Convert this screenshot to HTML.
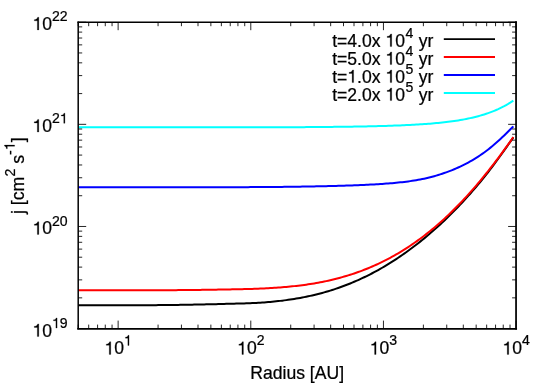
<!DOCTYPE html>
<html><head><meta charset="utf-8"><title>plot</title>
<style>
html,body{margin:0;padding:0;background:#fff;}
svg{display:block;will-change:transform}
text{font-family:"Liberation Sans",sans-serif;font-size:18.0px;fill:#000;stroke:#000;stroke-width:0.24px}
.s{font-size:14.4px}
.h{fill:none;stroke:none}
</style></head><body>
<svg width="550" height="386" viewBox="0 0 550 386">
<rect width="550" height="386" fill="#fff"/>
<path d="M78.20,305.31 L80.20,305.32 L82.20,305.32 L84.20,305.33 L86.20,305.33 L88.20,305.34 L90.20,305.34 L92.20,305.35 L94.20,305.35 L96.20,305.35 L98.20,305.36 L100.20,305.36 L102.20,305.36 L104.20,305.36 L106.20,305.36 L108.20,305.35 L110.20,305.35 L112.20,305.35 L114.20,305.35 L116.20,305.34 L118.20,305.34 L120.20,305.33 L122.20,305.33 L124.20,305.32 L126.20,305.32 L128.20,305.31 L130.20,305.30 L132.20,305.29 L134.20,305.28 L136.20,305.27 L138.20,305.26 L140.20,305.25 L142.20,305.24 L144.20,305.23 L146.20,305.21 L148.20,305.20 L150.20,305.18 L152.20,305.17 L154.20,305.15 L156.20,305.14 L158.20,305.12 L160.20,305.10 L162.20,305.08 L164.20,305.06 L166.20,305.04 L168.20,305.01 L170.20,304.99 L172.20,304.96 L174.20,304.94 L176.20,304.91 L178.20,304.88 L180.20,304.86 L182.20,304.82 L184.20,304.79 L186.20,304.76 L188.20,304.73 L190.20,304.69 L192.20,304.65 L194.20,304.62 L196.20,304.58 L198.20,304.54 L200.20,304.50 L202.20,304.46 L204.20,304.41 L206.20,304.37 L208.20,304.32 L210.20,304.28 L212.20,304.23 L214.20,304.18 L216.20,304.13 L218.20,304.08 L220.20,304.03 L222.20,303.98 L224.20,303.92 L226.20,303.87 L228.20,303.82 L230.20,303.76 L232.20,303.71 L234.20,303.65 L236.20,303.60 L238.20,303.54 L240.20,303.49 L242.20,303.43 L244.20,303.38 L246.20,303.31 L248.20,303.25 L250.20,303.17 L252.20,303.09 L254.20,303.00 L256.20,302.89 L258.20,302.78 L260.20,302.66 L262.20,302.53 L264.20,302.39 L266.20,302.24 L268.20,302.08 L270.20,301.91 L272.20,301.72 L274.20,301.53 L276.20,301.32 L278.20,301.10 L280.20,300.88 L282.20,300.64 L284.20,300.38 L286.20,300.12 L288.20,299.84 L290.20,299.55 L292.20,299.25 L294.20,298.93 L296.20,298.60 L298.20,298.26 L300.20,297.90 L302.20,297.53 L304.20,297.14 L306.20,296.74 L308.20,296.32 L310.20,295.89 L312.20,295.44 L314.20,294.98 L316.20,294.49 L318.20,293.99 L320.20,293.47 L322.20,292.94 L324.20,292.38 L326.20,291.81 L328.20,291.22 L330.20,290.61 L332.20,289.98 L334.20,289.33 L336.20,288.67 L338.20,287.98 L340.20,287.28 L342.20,286.55 L344.20,285.81 L346.20,285.04 L348.20,284.26 L350.20,283.46 L352.20,282.63 L354.20,281.79 L356.20,280.93 L358.20,280.04 L360.20,279.14 L362.20,278.21 L364.20,277.26 L366.20,276.29 L368.20,275.30 L370.20,274.29 L372.20,273.25 L374.20,272.19 L376.20,271.12 L378.20,270.02 L380.20,268.89 L382.20,267.75 L384.20,266.58 L386.20,265.39 L388.20,264.18 L390.20,262.94 L392.20,261.68 L394.20,260.40 L396.20,259.09 L398.20,257.77 L400.20,256.42 L402.20,255.04 L404.20,253.64 L406.20,252.22 L408.20,250.78 L410.20,249.31 L412.20,247.82 L414.20,246.31 L416.20,244.77 L418.20,243.20 L420.20,241.62 L422.20,240.01 L424.20,238.37 L426.20,236.71 L428.20,235.03 L430.20,233.32 L432.20,231.59 L434.20,229.83 L436.20,228.05 L438.20,226.24 L440.20,224.41 L442.20,222.55 L444.20,220.66 L446.20,218.75 L448.20,216.82 L450.20,214.86 L452.20,212.87 L454.20,210.85 L456.20,208.81 L458.20,206.74 L460.20,204.64 L462.20,202.51 L464.20,200.35 L466.20,198.17 L468.20,195.95 L470.20,193.71 L472.20,191.43 L474.20,189.12 L476.20,186.78 L478.20,184.41 L480.20,182.00 L482.20,179.56 L484.20,177.08 L486.20,174.57 L488.20,172.02 L490.20,169.44 L492.20,166.82 L494.20,164.16 L496.20,161.47 L498.20,158.74 L500.20,155.99 L502.20,153.21 L504.20,150.41 L506.20,147.59 L508.20,144.76 L510.20,141.91 L512.20,139.05 L513.35,137.40" fill="none" stroke="#000" stroke-width="2.0" stroke-linejoin="round" stroke-linecap="butt"/>
<path d="M78.20,290.21 L80.20,290.22 L82.20,290.23 L84.20,290.24 L86.20,290.25 L88.20,290.26 L90.20,290.27 L92.20,290.28 L94.20,290.29 L96.20,290.30 L98.20,290.30 L100.20,290.31 L102.20,290.32 L104.20,290.32 L106.20,290.32 L108.20,290.33 L110.20,290.33 L112.20,290.33 L114.20,290.33 L116.20,290.34 L118.20,290.34 L120.20,290.34 L122.20,290.34 L124.20,290.34 L126.20,290.33 L128.20,290.33 L130.20,290.33 L132.20,290.33 L134.20,290.32 L136.20,290.32 L138.20,290.32 L140.20,290.31 L142.20,290.31 L144.20,290.30 L146.20,290.29 L148.20,290.29 L150.20,290.28 L152.20,290.27 L154.20,290.26 L156.20,290.25 L158.20,290.24 L160.20,290.23 L162.20,290.22 L164.20,290.21 L166.20,290.20 L168.20,290.19 L170.20,290.17 L172.20,290.16 L174.20,290.14 L176.20,290.13 L178.20,290.11 L180.20,290.09 L182.20,290.08 L184.20,290.06 L186.20,290.04 L188.20,290.02 L190.20,290.00 L192.20,289.98 L194.20,289.96 L196.20,289.93 L198.20,289.91 L200.20,289.88 L202.20,289.86 L204.20,289.83 L206.20,289.80 L208.20,289.78 L210.20,289.75 L212.20,289.72 L214.20,289.69 L216.20,289.65 L218.20,289.62 L220.20,289.59 L222.20,289.55 L224.20,289.52 L226.20,289.48 L228.20,289.45 L230.20,289.41 L232.20,289.37 L234.20,289.33 L236.20,289.29 L238.20,289.25 L240.20,289.20 L242.20,289.16 L244.20,289.11 L246.20,289.06 L248.20,289.01 L250.20,288.96 L252.20,288.89 L254.20,288.83 L256.20,288.75 L258.20,288.67 L260.20,288.59 L262.20,288.50 L264.20,288.40 L266.20,288.30 L268.20,288.19 L270.20,288.08 L272.20,287.96 L274.20,287.83 L276.20,287.69 L278.20,287.55 L280.20,287.40 L282.20,287.24 L284.20,287.08 L286.20,286.90 L288.20,286.72 L290.20,286.53 L292.20,286.34 L294.20,286.13 L296.20,285.91 L298.20,285.68 L300.20,285.44 L302.20,285.19 L304.20,284.93 L306.20,284.65 L308.20,284.36 L310.20,284.06 L312.20,283.75 L314.20,283.42 L316.20,283.07 L318.20,282.72 L320.20,282.34 L322.20,281.95 L324.20,281.55 L326.20,281.13 L328.20,280.69 L330.20,280.24 L332.20,279.77 L334.20,279.28 L336.20,278.77 L338.20,278.25 L340.20,277.71 L342.20,277.15 L344.20,276.58 L346.20,275.99 L348.20,275.38 L350.20,274.75 L352.20,274.10 L354.20,273.43 L356.20,272.75 L358.20,272.04 L360.20,271.32 L362.20,270.57 L364.20,269.80 L366.20,269.01 L368.20,268.20 L370.20,267.37 L372.20,266.52 L374.20,265.64 L376.20,264.74 L378.20,263.82 L380.20,262.88 L382.20,261.91 L384.20,260.92 L386.20,259.90 L388.20,258.86 L390.20,257.80 L392.20,256.71 L394.20,255.60 L396.20,254.46 L398.20,253.29 L400.20,252.10 L402.20,250.88 L404.20,249.64 L406.20,248.37 L408.20,247.07 L410.20,245.75 L412.20,244.40 L414.20,243.02 L416.20,241.61 L418.20,240.18 L420.20,238.71 L422.20,237.22 L424.20,235.70 L426.20,234.15 L428.20,232.58 L430.20,230.97 L432.20,229.33 L434.20,227.66 L436.20,225.97 L438.20,224.24 L440.20,222.48 L442.20,220.69 L444.20,218.87 L446.20,217.02 L448.20,215.14 L450.20,213.23 L452.20,211.29 L454.20,209.31 L456.20,207.31 L458.20,205.27 L460.20,203.20 L462.20,201.10 L464.20,198.97 L466.20,196.81 L468.20,194.62 L470.20,192.39 L472.20,190.14 L474.20,187.85 L476.20,185.54 L478.20,183.19 L480.20,180.81 L482.20,178.41 L484.20,175.97 L486.20,173.50 L488.20,171.00 L490.20,168.47 L492.20,165.92 L494.20,163.33 L496.20,160.71 L498.20,158.07 L500.20,155.40 L502.20,152.69 L504.20,149.96 L506.20,147.21 L508.20,144.42 L510.20,141.61 L512.20,138.77 L513.35,137.12" fill="none" stroke="#f00" stroke-width="2.0" stroke-linejoin="round" stroke-linecap="butt"/>
<path d="M78.20,187.20 L80.20,187.20 L82.20,187.20 L84.20,187.20 L86.20,187.20 L88.20,187.20 L90.20,187.20 L92.20,187.20 L94.20,187.20 L96.20,187.20 L98.20,187.20 L100.20,187.20 L102.20,187.20 L104.20,187.20 L106.20,187.20 L108.20,187.20 L110.20,187.20 L112.20,187.20 L114.20,187.20 L116.20,187.20 L118.20,187.20 L120.20,187.20 L122.20,187.20 L124.20,187.20 L126.20,187.20 L128.20,187.20 L130.20,187.20 L132.20,187.20 L134.20,187.20 L136.20,187.20 L138.20,187.20 L140.20,187.20 L142.20,187.20 L144.20,187.20 L146.20,187.20 L148.20,187.20 L150.20,187.20 L152.20,187.20 L154.20,187.20 L156.20,187.20 L158.20,187.20 L160.20,187.20 L162.20,187.20 L164.20,187.20 L166.20,187.20 L168.20,187.20 L170.20,187.20 L172.20,187.20 L174.20,187.20 L176.20,187.21 L178.20,187.21 L180.20,187.21 L182.20,187.21 L184.20,187.21 L186.20,187.21 L188.20,187.21 L190.20,187.21 L192.20,187.21 L194.20,187.21 L196.20,187.21 L198.20,187.21 L200.20,187.21 L202.20,187.21 L204.20,187.21 L206.20,187.21 L208.20,187.21 L210.20,187.21 L212.20,187.21 L214.20,187.21 L216.20,187.21 L218.20,187.20 L220.20,187.20 L222.20,187.20 L224.20,187.20 L226.20,187.19 L228.20,187.19 L230.20,187.19 L232.20,187.18 L234.20,187.18 L236.20,187.17 L238.20,187.17 L240.20,187.16 L242.20,187.15 L244.20,187.15 L246.20,187.14 L248.20,187.13 L250.20,187.12 L252.20,187.11 L254.20,187.10 L256.20,187.09 L258.20,187.08 L260.20,187.07 L262.20,187.05 L264.20,187.04 L266.20,187.02 L268.20,187.01 L270.20,186.99 L272.20,186.98 L274.20,186.96 L276.20,186.94 L278.20,186.92 L280.20,186.90 L282.20,186.88 L284.20,186.86 L286.20,186.83 L288.20,186.81 L290.20,186.78 L292.20,186.76 L294.20,186.73 L296.20,186.70 L298.20,186.67 L300.20,186.64 L302.20,186.61 L304.20,186.58 L306.20,186.55 L308.20,186.51 L310.20,186.48 L312.20,186.44 L314.20,186.40 L316.20,186.36 L318.20,186.32 L320.20,186.28 L322.20,186.23 L324.20,186.19 L326.20,186.14 L328.20,186.09 L330.20,186.04 L332.20,185.99 L334.20,185.94 L336.20,185.89 L338.20,185.83 L340.20,185.77 L342.20,185.71 L344.20,185.65 L346.20,185.59 L348.20,185.52 L350.20,185.45 L352.20,185.38 L354.20,185.31 L356.20,185.23 L358.20,185.15 L360.20,185.07 L362.20,184.99 L364.20,184.90 L366.20,184.80 L368.20,184.71 L370.20,184.61 L372.20,184.50 L374.20,184.39 L376.20,184.28 L378.20,184.16 L380.20,184.03 L382.20,183.90 L384.20,183.76 L386.20,183.62 L388.20,183.47 L390.20,183.31 L392.20,183.14 L394.20,182.96 L396.20,182.77 L398.20,182.57 L400.20,182.36 L402.20,182.14 L404.20,181.91 L406.20,181.66 L408.20,181.40 L410.20,181.13 L412.20,180.83 L414.20,180.52 L416.20,180.19 L418.20,179.84 L420.20,179.47 L422.20,179.08 L424.20,178.66 L426.20,178.22 L428.20,177.75 L430.20,177.26 L432.20,176.74 L434.20,176.19 L436.20,175.62 L438.20,175.02 L440.20,174.40 L442.20,173.75 L444.20,173.07 L446.20,172.37 L448.20,171.64 L450.20,170.88 L452.20,170.08 L454.20,169.26 L456.20,168.41 L458.20,167.52 L460.20,166.60 L462.20,165.64 L464.20,164.65 L466.20,163.62 L468.20,162.55 L470.20,161.44 L472.20,160.29 L474.20,159.10 L476.20,157.87 L478.20,156.59 L480.20,155.26 L482.20,153.89 L484.20,152.47 L486.20,150.99 L488.20,149.47 L490.20,147.89 L492.20,146.26 L494.20,144.57 L496.20,142.84 L498.20,141.05 L500.20,139.22 L502.20,137.35 L504.20,135.43 L506.20,133.49 L508.20,131.51 L510.20,129.52 L512.20,127.50 L513.35,126.34" fill="none" stroke="#00f" stroke-width="2.0" stroke-linejoin="round" stroke-linecap="butt"/>
<path d="M78.20,127.30 L80.20,127.30 L82.20,127.30 L84.20,127.30 L86.20,127.30 L88.20,127.30 L90.20,127.30 L92.20,127.30 L94.20,127.30 L96.20,127.30 L98.20,127.30 L100.20,127.30 L102.20,127.30 L104.20,127.30 L106.20,127.30 L108.20,127.30 L110.20,127.30 L112.20,127.30 L114.20,127.30 L116.20,127.30 L118.20,127.30 L120.20,127.30 L122.20,127.30 L124.20,127.30 L126.20,127.30 L128.20,127.30 L130.20,127.30 L132.20,127.29 L134.20,127.29 L136.20,127.29 L138.20,127.29 L140.20,127.29 L142.20,127.29 L144.20,127.29 L146.20,127.29 L148.20,127.29 L150.20,127.29 L152.20,127.29 L154.20,127.29 L156.20,127.29 L158.20,127.29 L160.20,127.29 L162.20,127.29 L164.20,127.29 L166.20,127.29 L168.20,127.29 L170.20,127.29 L172.20,127.29 L174.20,127.29 L176.20,127.29 L178.20,127.29 L180.20,127.29 L182.20,127.29 L184.20,127.29 L186.20,127.30 L188.20,127.30 L190.20,127.30 L192.20,127.30 L194.20,127.30 L196.20,127.30 L198.20,127.31 L200.20,127.31 L202.20,127.31 L204.20,127.31 L206.20,127.31 L208.20,127.31 L210.20,127.31 L212.20,127.32 L214.20,127.32 L216.20,127.32 L218.20,127.32 L220.20,127.32 L222.20,127.32 L224.20,127.32 L226.20,127.32 L228.20,127.32 L230.20,127.32 L232.20,127.32 L234.20,127.32 L236.20,127.32 L238.20,127.32 L240.20,127.32 L242.20,127.32 L244.20,127.32 L246.20,127.32 L248.20,127.32 L250.20,127.32 L252.20,127.31 L254.20,127.31 L256.20,127.31 L258.20,127.30 L260.20,127.30 L262.20,127.30 L264.20,127.29 L266.20,127.29 L268.20,127.28 L270.20,127.28 L272.20,127.27 L274.20,127.27 L276.20,127.26 L278.20,127.25 L280.20,127.25 L282.20,127.24 L284.20,127.23 L286.20,127.22 L288.20,127.21 L290.20,127.20 L292.20,127.20 L294.20,127.19 L296.20,127.18 L298.20,127.16 L300.20,127.15 L302.20,127.14 L304.20,127.13 L306.20,127.12 L308.20,127.10 L310.20,127.09 L312.20,127.07 L314.20,127.06 L316.20,127.04 L318.20,127.03 L320.20,127.01 L322.20,126.99 L324.20,126.97 L326.20,126.96 L328.20,126.94 L330.20,126.92 L332.20,126.89 L334.20,126.87 L336.20,126.85 L338.20,126.83 L340.20,126.80 L342.20,126.78 L344.20,126.75 L346.20,126.72 L348.20,126.69 L350.20,126.66 L352.20,126.63 L354.20,126.60 L356.20,126.57 L358.20,126.53 L360.20,126.50 L362.20,126.46 L364.20,126.42 L366.20,126.38 L368.20,126.34 L370.20,126.29 L372.20,126.25 L374.20,126.20 L376.20,126.15 L378.20,126.10 L380.20,126.05 L382.20,125.99 L384.20,125.94 L386.20,125.88 L388.20,125.81 L390.20,125.75 L392.20,125.68 L394.20,125.61 L396.20,125.54 L398.20,125.46 L400.20,125.38 L402.20,125.30 L404.20,125.21 L406.20,125.12 L408.20,125.02 L410.20,124.92 L412.20,124.82 L414.20,124.71 L416.20,124.59 L418.20,124.48 L420.20,124.35 L422.20,124.22 L424.20,124.08 L426.20,123.94 L428.20,123.79 L430.20,123.63 L432.20,123.47 L434.20,123.30 L436.20,123.11 L438.20,122.92 L440.20,122.72 L442.20,122.51 L444.20,122.29 L446.20,122.06 L448.20,121.82 L450.20,121.56 L452.20,121.29 L454.20,121.01 L456.20,120.71 L458.20,120.40 L460.20,120.07 L462.20,119.72 L464.20,119.36 L466.20,118.97 L468.20,118.57 L470.20,118.14 L472.20,117.69 L474.20,117.22 L476.20,116.73 L478.20,116.20 L480.20,115.65 L482.20,115.07 L484.20,114.46 L486.20,113.81 L488.20,113.13 L490.20,112.41 L492.20,111.66 L494.20,110.86 L496.20,110.01 L498.20,109.13 L500.20,108.19 L502.20,107.20 L504.20,106.16 L506.20,105.05 L508.20,103.89 L510.20,102.66 L512.20,101.36 L513.35,100.59" fill="none" stroke="#0ff" stroke-width="2.0" stroke-linejoin="round" stroke-linecap="butt"/>
<path d="M78.20,328.60v-4.0M78.20,22.20v4.0M88.70,328.60v-4.0M88.70,22.20v4.0M97.58,328.60v-4.0M97.58,22.20v4.0M105.28,328.60v-4.0M105.28,22.20v4.0M112.06,328.60v-4.0M112.06,22.20v4.0M118.13,328.60v-8.0M118.13,22.20v8.0M158.07,328.60v-4.0M158.07,22.20v4.0M181.43,328.60v-4.0M181.43,22.20v4.0M198.00,328.60v-4.0M198.00,22.20v4.0M210.86,328.60v-4.0M210.86,22.20v4.0M221.36,328.60v-4.0M221.36,22.20v4.0M230.24,328.60v-4.0M230.24,22.20v4.0M237.93,328.60v-4.0M237.93,22.20v4.0M244.72,328.60v-4.0M244.72,22.20v4.0M250.79,328.60v-8.0M250.79,22.20v8.0M290.72,328.60v-4.0M290.72,22.20v4.0M314.08,328.60v-4.0M314.08,22.20v4.0M330.66,328.60v-4.0M330.66,22.20v4.0M343.51,328.60v-4.0M343.51,22.20v4.0M354.01,328.60v-4.0M354.01,22.20v4.0M362.90,328.60v-4.0M362.90,22.20v4.0M370.59,328.60v-4.0M370.59,22.20v4.0M377.37,328.60v-4.0M377.37,22.20v4.0M383.44,328.60v-8.0M383.44,22.20v8.0M423.38,328.60v-4.0M423.38,22.20v4.0M446.74,328.60v-4.0M446.74,22.20v4.0M463.31,328.60v-4.0M463.31,22.20v4.0M476.17,328.60v-4.0M476.17,22.20v4.0M486.67,328.60v-4.0M486.67,22.20v4.0M495.55,328.60v-4.0M495.55,22.20v4.0M503.24,328.60v-4.0M503.24,22.20v4.0M510.03,328.60v-4.0M510.03,22.20v4.0M516.10,328.60v-8.0M516.10,22.20v8.0M78.20,328.60h8.0M516.10,328.60h-8.0M78.20,297.85h4.0M516.10,297.85h-4.0M78.20,279.87h4.0M516.10,279.87h-4.0M78.20,267.11h4.0M516.10,267.11h-4.0M78.20,257.21h4.0M516.10,257.21h-4.0M78.20,249.12h4.0M516.10,249.12h-4.0M78.20,242.29h4.0M516.10,242.29h-4.0M78.20,236.36h4.0M516.10,236.36h-4.0M78.20,231.14h4.0M516.10,231.14h-4.0M78.20,226.47h8.0M516.10,226.47h-8.0M78.20,195.72h4.0M516.10,195.72h-4.0M78.20,177.74h4.0M516.10,177.74h-4.0M78.20,164.98h4.0M516.10,164.98h-4.0M78.20,155.08h4.0M516.10,155.08h-4.0M78.20,146.99h4.0M516.10,146.99h-4.0M78.20,140.15h4.0M516.10,140.15h-4.0M78.20,134.23h4.0M516.10,134.23h-4.0M78.20,129.01h4.0M516.10,129.01h-4.0M78.20,124.33h8.0M516.10,124.33h-8.0M78.20,93.59h4.0M516.10,93.59h-4.0M78.20,75.60h4.0M516.10,75.60h-4.0M78.20,62.84h4.0M516.10,62.84h-4.0M78.20,52.95h4.0M516.10,52.95h-4.0M78.20,44.86h4.0M516.10,44.86h-4.0M78.20,38.02h4.0M516.10,38.02h-4.0M78.20,32.10h4.0M516.10,32.10h-4.0M78.20,26.87h4.0M516.10,26.87h-4.0M78.20,22.20h8.0M516.10,22.20h-8.0" fill="none" stroke="#000" stroke-width="0.85"/>
<path d="M78.2,22.2H516.1" stroke="#000" stroke-width="1.5" stroke-linecap="square" fill="none"/>
<path d="M78.2,22.2V328.6" stroke="#000" stroke-width="1.5" stroke-linecap="square" fill="none"/>
<path d="M78.2,328.85H516.1" stroke="#000" stroke-width="1.9" stroke-linecap="square" fill="none"/>
<path d="M516.0500000000001,22.2V328.6" stroke="#000" stroke-width="1.75" stroke-linecap="square" fill="none"/>
<text transform="translate(67.7,336.55) scale(0.977,1)" text-anchor="end"><tspan class="h">1</tspan>0<tspan class="s" dy="-8.5"><tspan class="h">1</tspan>9</tspan></text>
<text transform="translate(67.7,234.42) scale(0.977,1)" text-anchor="end"><tspan class="h">1</tspan>0<tspan class="s" dy="-8.5">20</tspan></text>
<text transform="translate(67.7,132.03) scale(0.977,1)" text-anchor="end"><tspan class="h">1</tspan>0<tspan class="s" dy="-8.75">2<tspan class="h">1</tspan></tspan></text>
<text transform="translate(67.7,29.90) scale(0.977,1)" text-anchor="end"><tspan class="h">1</tspan>0<tspan class="s" dy="-9.0">22</tspan></text>
<text transform="translate(118.13,354.4) scale(0.977,1)" text-anchor="middle"><tspan class="h">1</tspan>0<tspan class="s" dy="-9.0"><tspan class="h">1</tspan></tspan></text>
<text transform="translate(250.79,354.4) scale(0.977,1)" text-anchor="middle"><tspan class="h">1</tspan>0<tspan class="s" dy="-9.0">2</tspan></text>
<text transform="translate(383.44,354.4) scale(0.977,1)" text-anchor="middle"><tspan class="h">1</tspan>0<tspan class="s" dy="-9.0">3</tspan></text>
<text transform="translate(516.10,354.4) scale(0.977,1)" text-anchor="middle"><tspan class="h">1</tspan>0<tspan class="s" dy="-9.0">4</tspan></text>
<text transform="translate(297.15,378.8) scale(0.977,1)" text-anchor="middle">Radius [AU]</text>
<text transform="translate(24.2,175.70) rotate(-90) scale(0.985,1)" text-anchor="middle">j [cm<tspan class="s" dy="-9.6">2</tspan><tspan dy="9.6"> s</tspan><tspan class="s" dy="-9.6">-<tspan class="h">1</tspan></tspan><tspan dy="9.6">]</tspan></text>
<text transform="translate(332.15,46.60) scale(0.977,1)">t=4.0x <tspan class="h">1</tspan>0<tspan class="s" dx="0.45" dy="-9.0">4</tspan><tspan dx="0.6" dy="9.0"> yr</tspan></text>
<path d="M443.8,39.10H495" stroke="#000" stroke-width="1.9" fill="none"/>
<text transform="translate(332.15,64.60) scale(0.977,1)">t=5.0x <tspan class="h">1</tspan>0<tspan class="s" dx="0.45" dy="-9.0">4</tspan><tspan dx="0.6" dy="9.0"> yr</tspan></text>
<path d="M443.8,57.05H495" stroke="#f00" stroke-width="1.9" fill="none"/>
<text transform="translate(332.15,82.60) scale(0.977,1)">t=<tspan class="h">1</tspan>.0x <tspan class="h">1</tspan>0<tspan class="s" dx="0.45" dy="-9.0">5</tspan><tspan dx="0.6" dy="9.0"> yr</tspan></text>
<path d="M443.8,75.00H495" stroke="#00f" stroke-width="1.9" fill="none"/>
<text transform="translate(332.15,100.60) scale(0.977,1)">t=2.0x <tspan class="h">1</tspan>0<tspan class="s" dx="0.45" dy="-9.0">5</tspan><tspan dx="0.6" dy="9.0"> yr</tspan></text>
<path d="M443.8,92.95H495" stroke="#0ff" stroke-width="1.9" fill="none"/>
<g fill="#000" stroke="#000" stroke-width="0.24" vector-effect="non-scaling-stroke">
<path vector-effect="non-scaling-stroke" transform="matrix(0.977 0 0 1 67.7 336.55) translate(-36.04 0.00) scale(0.01800 -0.01800)" d="M359,0H275V505H101V569C195,572 270,615 296,703H359Z"/>
<path vector-effect="non-scaling-stroke" transform="matrix(0.977 0 0 1 67.7 336.55) translate(-16.03 -8.50) scale(0.01440 -0.01440)" d="M359,0H275V505H101V569C195,572 270,615 296,703H359Z"/>
<path vector-effect="non-scaling-stroke" transform="matrix(0.977 0 0 1 67.7 234.42) translate(-36.02 0.00) scale(0.01800 -0.01800)" d="M359,0H275V505H101V569C195,572 270,615 296,703H359Z"/>
<path vector-effect="non-scaling-stroke" transform="matrix(0.977 0 0 1 67.7 132.03) translate(-36.04 0.00) scale(0.01800 -0.01800)" d="M359,0H275V505H101V569C195,572 270,615 296,703H359Z"/>
<path vector-effect="non-scaling-stroke" transform="matrix(0.977 0 0 1 67.7 132.03) translate(-8.01 -8.75) scale(0.01440 -0.01440)" d="M359,0H275V505H101V569C195,572 270,615 296,703H359Z"/>
<path vector-effect="non-scaling-stroke" transform="matrix(0.977 0 0 1 67.7 29.9) translate(-36.02 0.00) scale(0.01800 -0.01800)" d="M359,0H275V505H101V569C195,572 270,615 296,703H359Z"/>
<path vector-effect="non-scaling-stroke" transform="matrix(0.977 0 0 1 118.13 354.4) translate(-14.01 0.00) scale(0.01800 -0.01800)" d="M359,0H275V505H101V569C195,572 270,615 296,703H359Z"/>
<path vector-effect="non-scaling-stroke" transform="matrix(0.977 0 0 1 118.13 354.4) translate(6.00 -9.00) scale(0.01440 -0.01440)" d="M359,0H275V505H101V569C195,572 270,615 296,703H359Z"/>
<path vector-effect="non-scaling-stroke" transform="matrix(0.977 0 0 1 250.79 354.4) translate(-14.01 0.00) scale(0.01800 -0.01800)" d="M359,0H275V505H101V569C195,572 270,615 296,703H359Z"/>
<path vector-effect="non-scaling-stroke" transform="matrix(0.977 0 0 1 383.44 354.4) translate(-14.01 0.00) scale(0.01800 -0.01800)" d="M359,0H275V505H101V569C195,572 270,615 296,703H359Z"/>
<path vector-effect="non-scaling-stroke" transform="matrix(0.977 0 0 1 516.1 354.4) translate(-14.01 0.00) scale(0.01800 -0.01800)" d="M359,0H275V505H101V569C195,572 270,615 296,703H359Z"/>
<path vector-effect="non-scaling-stroke" transform="matrix(0 -0.985 1 0 24.2 175.7) translate(25.90 -9.60) scale(0.01440 -0.01440)" d="M359,0H275V505H101V569C195,572 270,615 296,703H359Z"/>
<path vector-effect="non-scaling-stroke" transform="matrix(0.977 0 0 1 332.15 46.6) translate(54.50 0.00) scale(0.01800 -0.01800)" d="M359,0H275V505H101V569C195,572 270,615 296,703H359Z"/>
<path vector-effect="non-scaling-stroke" transform="matrix(0.977 0 0 1 332.15 64.6) translate(54.50 0.00) scale(0.01800 -0.01800)" d="M359,0H275V505H101V569C195,572 270,615 296,703H359Z"/>
<path vector-effect="non-scaling-stroke" transform="matrix(0.977 0 0 1 332.15 82.6) translate(15.51 0.00) scale(0.01800 -0.01800)" d="M359,0H275V505H101V569C195,572 270,615 296,703H359Z"/>
<path vector-effect="non-scaling-stroke" transform="matrix(0.977 0 0 1 332.15 82.6) translate(54.51 0.00) scale(0.01800 -0.01800)" d="M359,0H275V505H101V569C195,572 270,615 296,703H359Z"/>
<path vector-effect="non-scaling-stroke" transform="matrix(0.977 0 0 1 332.15 100.6) translate(54.50 0.00) scale(0.01800 -0.01800)" d="M359,0H275V505H101V569C195,572 270,615 296,703H359Z"/>
</g>
</svg></body></html>
